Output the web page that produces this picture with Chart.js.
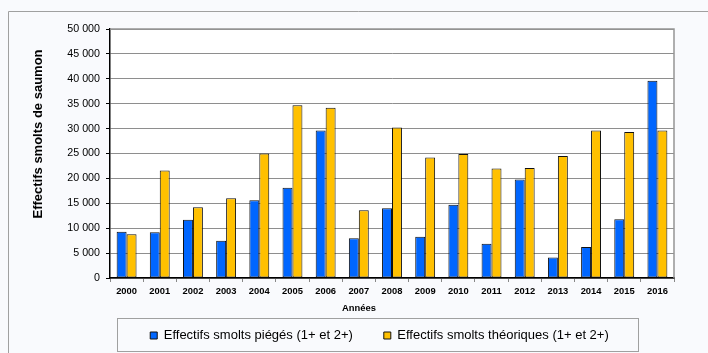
<!DOCTYPE html>
<html>
<head>
<meta charset="utf-8">
<script src="https://cdn.jsdelivr.net/npm/chart.js@4.4.1/dist/chart.umd.min.js"></script>
<style>
  html, body { margin: 0; padding: 0; background: #f9fafd; }
  canvas { display: block; }
</style>
</head>
<body>
<canvas id="smoltsChart" width="708" height="353"></canvas>
<script>
const annees = ['2000', '2001', '2002', '2003', '2004', '2005', '2006', '2007', '2008',
  '2009', '2010', '2011', '2012', '2013', '2014', '2015', '2016'];
const smoltsPieges = [9300, 9200, 11700, 7500, 15600, 18100, 29600, 8000, 14000,
  8300, 14700, 6900, 19800, 4100, 6200, 11800, 39600];
const smoltsTheoriques = [8800, 21600, 14200, 16000, 25000, 34700, 34200, 13600, 30200,
  24200, 24900, 22000, 22100, 24500, 29600, 29300, 29600];
const yMin = 0, yMax = 50000, yStep = 5000;

const FONT = "'Liberation Sans', Arial, sans-serif";

// 50000 -> "50 000"
function formatNombre(v) {
  return String(v).replace(/\B(?=(\d{3})+(?!\d))/g, ' ');
}

// fond, cadre extérieur, zone de tracé blanche, titres d'axes et cadre de légende
const cadrePlugin = {
  id: 'cadre',
  afterLayout(chart) {
    const lg = chart.legend;
    lg.left = 119;
    lg.right = 640;
    lg.width = lg.right - lg.left;
    lg.top = 298;
    lg.bottom = 351;
    lg.height = lg.bottom - lg.top;
  },
  beforeDraw(chart) {
    const ctx = chart.ctx;
    const a = chart.chartArea;
    ctx.save();
    ctx.fillStyle = '#f9fafd';
    ctx.fillRect(0, 0, chart.width, chart.height);
    ctx.strokeStyle = '#a0a0a0';
    ctx.lineWidth = 1;
    ctx.beginPath();
    ctx.moveTo(8.5, chart.height);
    ctx.lineTo(8.5, 11.5);
    ctx.lineTo(chart.width, 11.5);
    ctx.stroke();
    ctx.fillStyle = '#ffffff';
    ctx.fillRect(a.left, a.top, a.right - a.left, a.bottom - a.top);
    ctx.restore();
  },
  afterDraw(chart) {
    const ctx = chart.ctx;
    const a = chart.chartArea;
    ctx.save();
    // bord haut et droit de la zone de tracé
    ctx.strokeStyle = '#959595';
    ctx.lineWidth = 1.5;
    ctx.beginPath();
    ctx.moveTo(a.left, a.top);
    ctx.lineTo(a.right, a.top);
    ctx.lineTo(a.right, a.bottom);
    ctx.stroke();

    // titres des axes
    ctx.fillStyle = '#000';
    ctx.textAlign = 'center';
    ctx.textBaseline = 'middle';
    ctx.font = 'bold 9.4px ' + FONT;
    ctx.fillText('Années', 359, 308);
    ctx.translate(38, 134);
    ctx.rotate(-Math.PI / 2);
    ctx.font = 'bold 13px ' + FONT;
    ctx.fillText('Effectifs smolts de saumon', 0, 0);
    ctx.restore();

    // cadre de la légende
    ctx.save();
    ctx.strokeStyle = '#a0a0a0';
    ctx.lineWidth = 1;
    ctx.strokeRect(117.5, 318.5, 521, 33);
    ctx.restore();
  }
};

const ctx = document.getElementById('smoltsChart').getContext('2d');
const chart = new Chart(ctx, {
  type: 'bar',
  data: {
    labels: annees,
    datasets: [{
      label: 'Effectifs smolts piégés (1+ et 2+)',
      data: smoltsPieges,
      backgroundColor: '#0066ff',
      borderColor: '#111',
      borderWidth: 1,
      borderSkipped: false
    }, {
      label: 'Effectifs smolts théoriques (1+ et 2+)',
      data: smoltsTheoriques,
      backgroundColor: '#ffc000',
      borderColor: '#111',
      borderWidth: 1,
      borderSkipped: false
    }]
  },
  options: {
    responsive: false,
    animation: false,
    events: [],
    layout: { padding: { left: 8, right: 34, top: 29, bottom: 2 } },
    datasets: {
      bar: { categoryPercentage: 0.6, barPercentage: 1.0 }
    },
    plugins: {
      tooltip: { enabled: false },
      legend: {
        position: 'bottom',
        maxHeight: 33,
        labels: {
          boxWidth: 7,
          boxHeight: 7,
          padding: 31,
          color: '#000',
          font: { family: FONT, size: 13 }
        }
      }
    },
    scales: {
      x: {
        afterFit: s => { s.height = 40; },
        grid: {
          offset: true,
          drawOnChartArea: false,
          drawTicks: true,
          tickLength: 4,
          color: '#888'
        },
        border: { color: '#000', width: 1.5 },
        ticks: {
          color: '#000',
          padding: 4,
          maxRotation: 0,
          autoSkip: false,
          font: { family: FONT, size: 9.4, weight: 'bold' }
        }
      },
      y: {
        min: yMin,
        max: yMax,
        afterFit: s => { s.width = 102; },
        grid: {
          color: '#8e8e8e',
          borderDash: [2, 1],
          tickLength: 4,
          tickColor: '#000',
          tickBorderDash: []
        },
        border: { color: '#000', width: 1.5 },
        ticks: {
          stepSize: yStep,
          color: '#000',
          padding: 6,
          font: { family: FONT, size: 10.7 },
          callback: v => formatNombre(v)
        }
      }
    }
  },
  plugins: [cadrePlugin]
});
</script>
</body>
</html>
